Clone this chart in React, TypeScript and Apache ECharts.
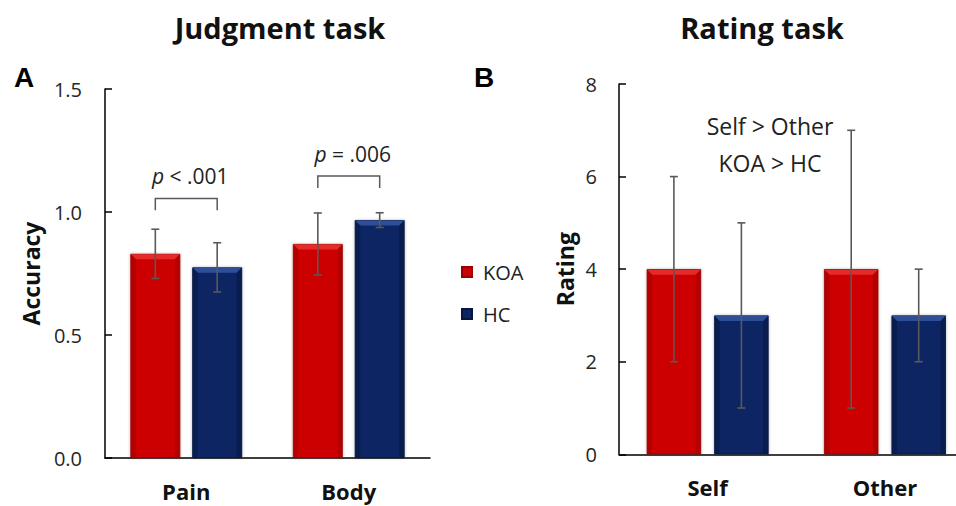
import React, { useEffect, useRef } from "react";
import * as echarts from "echarts";

// ---- Data ----
const groups = ["KOA", "HC"];
const judgmentCategories = ["Pain", "Body"];
const judgmentKOA = [0.83, 0.87];
const judgmentKOAErr = [0.1, 0.126];
const judgmentHC = [0.775, 0.967];
const judgmentHCErr = [0.1, 0.03];
const judgmentTicks = [0, 0.5, 1.0, 1.5];

const ratingCategories = ["Self", "Other"];
const ratingKOA = [4, 4];
const ratingKOAErr = [2, 3];
const ratingHC = [3, 3];
const ratingHCErr = [2, 1];
const ratingTicks = [0, 2, 4, 6, 8];

// significance brackets (category index, bracket height, leg length, label)
const bracketCats = [0, 1];
const bracketTop = [1.055, 1.146];
const bracketLeg = [0.048, 0.048];
const bracketLabels = ["{i|p} < .001", "{i|p} = .006"];

const annotationLines = ["Self > Other", "KOA > HC"];

const RED = "#cc0000";
const BLUE = "#0b2563";
const FONT = "'Open Sans', 'Noto Sans', sans-serif";
const BAR_RATIO = 0.307;
const BAR_W = "30.7%";
const BAR_GAP = "24%";
const OFFSET_RATIO = BAR_RATIO * 1.24 / 2;
const CHART_W = 980;

function errorSeries(xAxisIndex: number, yAxisIndex: number, vals: number[], errs: number[], side: number) {
  return {
    type: "custom",
    xAxisIndex,
    yAxisIndex,
    silent: true,
    z: 5,
    data: vals.map((v, i) => [i, v - errs[i], v + errs[i]]),
    renderItem: (params: any, api: any) => {
      const cat = api.value(0);
      const lo = api.coord([cat, api.value(1)]);
      const hi = api.coord([cat, api.value(2)]);
      const band = api.size([1, 0])[0];
      const x = lo[0] + side * band * OFFSET_RATIO;
      const cap = 4;
      const st = { stroke: "#595959", lineWidth: 1.6, fill: "none" };
      return {
        type: "group",
        children: [
          { type: "line", shape: { x1: x, y1: lo[1], x2: x, y2: hi[1] }, style: st },
          { type: "line", shape: { x1: x - cap, y1: lo[1], x2: x + cap, y2: lo[1] }, style: st },
          { type: "line", shape: { x1: x - cap, y1: hi[1], x2: x + cap, y2: hi[1] }, style: st },
        ],
      };
    },
  };
}

// bevel decoration on top of each bar (drawn from the same values)
function bevelSeries(xAxisIndex: number, yAxisIndex: number, vals: number[], side: number, light: string, edge: string) {
  return {
    type: "custom",
    xAxisIndex,
    yAxisIndex,
    silent: true,
    z: 3,
    data: vals.map((v, i) => [i, v]),
    renderItem: (params: any, api: any) => {
      const cat = api.value(0);
      const top = api.coord([cat, api.value(1)]);
      const bottom = api.coord([cat, 0]);
      const band = api.size([1, 0])[0];
      const cx = top[0] + side * band * OFFSET_RATIO;
      const w = band * BAR_RATIO;
      const x0 = cx - w / 2 + 0.5;
      const x1 = cx + w / 2 - 0.5;
      const y = top[1] + 0.5;
      const b = 5;
      return {
        type: "group",
        children: [
          {
            type: "polygon",
            shape: { points: [[x0, y], [x1, y], [x1 - b, y + b], [x0 + b, y + b]] },
            style: { fill: light },
          },
          {
            type: "polygon",
            shape: { points: [[x0, y], [x0 + b, y + b], [x0 + b, bottom[1] - 1], [x0, bottom[1]]] },
            style: { fill: edge, opacity: 0.35 },
          },
          {
            type: "polygon",
            shape: { points: [[x1, y], [x1 - b, y + b], [x1 - b, bottom[1] - 1], [x1, bottom[1]]] },
            style: { fill: edge, opacity: 0.35 },
          },
        ],
      };
    },
  };
}

function barSeries(name: string, color: string, xAxisIndex: number, yAxisIndex: number, data: number[]) {
  return {
    name,
    type: "bar",
    xAxisIndex,
    yAxisIndex,
    barWidth: BAR_W,
    barGap: BAR_GAP,
    data,
    itemStyle: {
      color,
      borderColor: color === RED ? "#9a0000" : "#061640",
      borderWidth: 0.8,
      shadowColor: "rgba(0,0,0,0.3)",
      shadowBlur: 3,
    },
  };
}

export default function App() {
  const ref = useRef<HTMLDivElement>(null);
  useEffect(() => {
    if (!ref.current) return;
    const chart = echarts.init(ref.current, null, { renderer: "svg" });
    const axisLabelStyle = { fontFamily: FONT, fontSize: 20, color: "#262626" };
    const catLabelStyle = { fontFamily: FONT, fontSize: 22, fontWeight: "bold", color: "#111" };
    const nameStyle = { fontFamily: FONT, fontSize: 23, fontWeight: "bold", color: "#111" };
    const option: any = {
      animation: false,
      backgroundColor: "#ffffff",
      grid: [
        { left: 105, right: CHART_W - 430, top: 89, bottom: 48 },
        { left: 619, right: CHART_W - 973.6, top: 84, bottom: 51.7 },
      ],
      xAxis: [
        {
          type: "category",
          gridIndex: 0,
          data: judgmentCategories,
          axisLine: { lineStyle: { color: "#000", width: 1.5 } },
          axisTick: { show: false },
          axisLabel: { ...catLabelStyle, margin: 22 },
        },
        {
          type: "category",
          gridIndex: 1,
          data: ratingCategories,
          axisLine: { lineStyle: { color: "#000", width: 1.5 } },
          axisTick: { show: false },
          axisLabel: { ...catLabelStyle, margin: 22 },
        },
      ],
      yAxis: [
        {
          type: "value",
          gridIndex: 0,
          min: judgmentTicks[0],
          max: judgmentTicks[judgmentTicks.length - 1],
          interval: judgmentTicks[1] - judgmentTicks[0],
          name: "Accuracy",
          nameLocation: "middle",
          nameGap: 63,
          nameTextStyle: nameStyle,
          axisLine: { show: true, lineStyle: { color: "#000", width: 1.5 } },
          axisTick: { show: true, inside: true, length: 7, lineStyle: { color: "#000", width: 1.5 } },
          axisLabel: { ...axisLabelStyle, margin: 23, formatter: (v: number) => v.toFixed(1) },
          splitLine: { show: false },
        },
        {
          type: "value",
          gridIndex: 1,
          min: ratingTicks[0],
          max: ratingTicks[ratingTicks.length - 1],
          interval: ratingTicks[1] - ratingTicks[0],
          name: "Rating",
          nameLocation: "middle",
          nameGap: 43,
          nameTextStyle: nameStyle,
          axisLine: { show: true, lineStyle: { color: "#000", width: 1.5 } },
          axisTick: { show: true, inside: true, length: 7, lineStyle: { color: "#000", width: 1.5 } },
          axisLabel: { ...axisLabelStyle, margin: 22 },
          splitLine: { show: false },
        },
      ],
      legend: {
        data: groups.map((g) => ({ name: g, icon: "rect" })),
        orient: "vertical",
        left: 461,
        top: 262,
        padding: 0,
        itemWidth: 10,
        itemHeight: 10,
        itemGap: 22,
        textStyle: { fontFamily: FONT, fontSize: 20, color: "#222", padding: [0, 0, 0, 6] },
      },
      series: [
        barSeries(groups[0], RED, 0, 0, judgmentKOA),
        barSeries(groups[1], BLUE, 0, 0, judgmentHC),
        bevelSeries(0, 0, judgmentKOA, -1, "#e52a2a", "#8a0000"),
        bevelSeries(0, 0, judgmentHC, 1, "#2e4f98", "#030d2e"),
        errorSeries(0, 0, judgmentKOA, judgmentKOAErr, -1),
        errorSeries(0, 0, judgmentHC, judgmentHCErr, 1),
        barSeries(groups[0], RED, 1, 1, ratingKOA),
        barSeries(groups[1], BLUE, 1, 1, ratingHC),
        bevelSeries(1, 1, ratingKOA, -1, "#e52a2a", "#8a0000"),
        bevelSeries(1, 1, ratingHC, 1, "#2e4f98", "#030d2e"),
        errorSeries(1, 1, ratingKOA, ratingKOAErr, -1),
        errorSeries(1, 1, ratingHC, ratingHCErr, 1),
        {
          type: "custom",
          xAxisIndex: 0,
          yAxisIndex: 0,
          silent: true,
          data: bracketCats.map((c, i) => [c, bracketTop[i], bracketLeg[i], i]),
          renderItem: (params: any, api: any) => {
            const cat = api.value(0);
            const top = api.coord([cat, api.value(1)]);
            const bot = api.coord([cat, api.value(1) - api.value(2)]);
            const band = api.size([1, 0])[0];
            const xl = top[0] - band * OFFSET_RATIO;
            const xr = top[0] + band * OFFSET_RATIO;
            const idx = api.value(3);
            return {
              type: "group",
              children: [
                {
                  type: "polyline",
                  shape: { points: [[xl, bot[1]], [xl, top[1]], [xr, top[1]], [xr, bot[1]]] },
                  style: { stroke: "#595959", lineWidth: 1.5, fill: "none" },
                },
                {
                  type: "text",
                  x: top[0] + 4,
                  y: top[1] - 22,
                  style: {
                    text: bracketLabels[idx],
                    align: "center",
                    verticalAlign: "middle",
                    fontFamily: FONT,
                    fontSize: 21,
                    fill: "#222",
                    rich: { i: { fontStyle: "italic", fontFamily: FONT, fontSize: 21, fill: "#222" } },
                  },
                },
              ],
            };
          },
        },
      ],
      graphic: [
        {
          type: "text", x: 280, y: 27,
          style: { text: "Judgment task", align: "center", verticalAlign: "middle", fontFamily: FONT, fontSize: 29, fontWeight: "bold", fill: "#111" },
        },
        {
          type: "text", x: 762, y: 27,
          style: { text: "Rating task", align: "center", verticalAlign: "middle", fontFamily: FONT, fontSize: 29, fontWeight: "bold", fill: "#111" },
        },
        {
          type: "text", x: 24, y: 77,
          style: { text: "A", align: "center", verticalAlign: "middle", fontFamily: "'Liberation Sans', Arial, sans-serif", fontSize: 28, fontWeight: "bold", fill: "#000" },
        },
        {
          type: "text", x: 484, y: 77,
          style: { text: "B", align: "center", verticalAlign: "middle", fontFamily: "'Liberation Sans', Arial, sans-serif", fontSize: 28, fontWeight: "bold", fill: "#000" },
        },
        {
          type: "text", x: 770, y: 126,
          style: { text: annotationLines[0], align: "center", verticalAlign: "middle", fontFamily: FONT, fontSize: 23, fill: "#222" },
        },
        {
          type: "text", x: 770, y: 163,
          style: { text: annotationLines[1], align: "center", verticalAlign: "middle", fontFamily: FONT, fontSize: 23, fill: "#222" },
        },
      ],
    };
    chart.setOption(option);
    return () => chart.dispose();
  }, []);
  return (
    <div style={{ width: 956, height: 506, position: "absolute", left: 0, top: 0, overflow: "hidden" }}>
      <div ref={ref} style={{ width: CHART_W, height: 506 }} />
    </div>
  );
}
